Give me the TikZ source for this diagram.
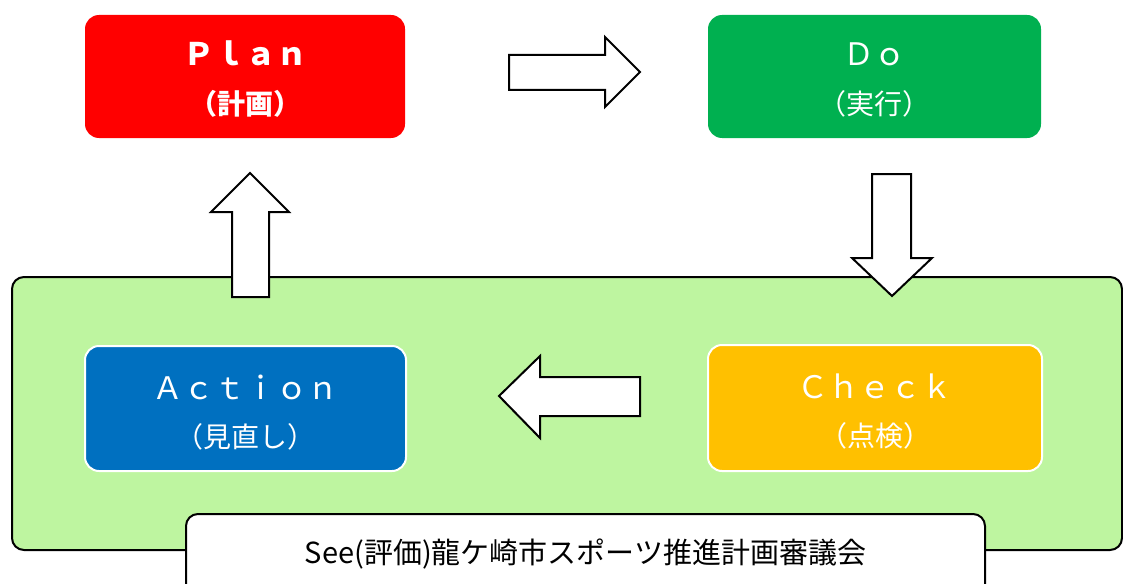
\documentclass[tikz,border=0pt]{standalone}
\usepackage{fontspec}
\setmainfont{Noto Sans CJK JP}
\definecolor{pdred}{RGB}{255,0,0}
\definecolor{pdgreen}{RGB}{0,176,80}
\definecolor{pdblue}{RGB}{0,112,192}
\definecolor{pdgold}{RGB}{255,192,0}
\definecolor{panelgreen}{RGB}{190,245,160}
\newcommand{\bigline}[1]{{\fontsize{31}{48}\selectfont #1}}
\begin{document}
\begin{tikzpicture}[x=1pt,y=-1pt,
  phase/.style={rectangle, rounded corners=14pt, inner sep=0pt, text=white,
    align=center, text height=78pt, text depth=3pt, font=\fontsize{28}{48}\selectfont},
  framedphase/.style={phase, draw=white, line width=2pt, text height=80pt},
  panelbox/.style={rectangle, rounded corners=12pt, draw=black, line width=2pt,
    fill=panelgreen, inner sep=0pt},
  seebox/.style={rectangle, rounded corners=12pt, draw=black, line width=2pt,
    fill=white, inner xsep=0pt, inner ysep=0pt, align=center,
    font=\fontsize{29}{34}\selectfont},
  blockarrow/.style={draw=black, line width=2pt, fill=white, line join=miter}]
\useasboundingbox (0,0) rectangle (1123,583);
\clip (0,0) rectangle (1123,583);
% green panel
\node[panelbox, minimum width=1110pt, minimum height=273pt] (panel) at (567,413.5) {};
% phase boxes
\node[phase, fill=pdred, minimum width=320pt, minimum height=123pt,
  font=\fontsize{28}{48}\selectfont\bfseries] (plan) at (245,76.5) {\bigline{Ｐｌａｎ}\\（計画）};
\node[phase, fill=pdgreen, minimum width=333pt, minimum height=123pt] (do) at (874.5,76.5) {\bigline{Ｄｏ}\\（実行）};
\node[framedphase, fill=pdblue, minimum width=321pt, minimum height=125pt] (act) at (245.5,408.5) {\bigline{Ａｃｔｉｏｎ}\\（見直し）};
\node[framedphase, fill=pdgold, minimum width=334pt, minimum height=126pt] (chk) at (875,408) {\bigline{Ｃｈｅｃｋ}\\（点検）};
% see label box (runs past the bottom edge)
\node[seebox, anchor=north, text width=799pt, text height=49pt, text depth=40pt] (see) at (585.5,513) {See(評価)龍ケ崎市スポーツ推進計画審議会};
% block arrows
\draw[blockarrow] (509,55) -- (605,55) -- (605,37) -- (640,72) -- (605,107) -- (605,90) -- (509,90) -- cycle;
\draw[blockarrow] (872,174) -- (911,174) -- (911,258) -- (932,258) -- (892,296) -- (852,258) -- (872,258) -- cycle;
\draw[blockarrow] (640,377) -- (540,377) -- (540,356) -- (499,396) -- (540,438) -- (540,416) -- (640,416) -- cycle;
\draw[blockarrow] (232,297) -- (232,212) -- (211,212) -- (250,173) -- (289,212) -- (269,212) -- (269,297) -- cycle;
\end{tikzpicture}
\end{document}
